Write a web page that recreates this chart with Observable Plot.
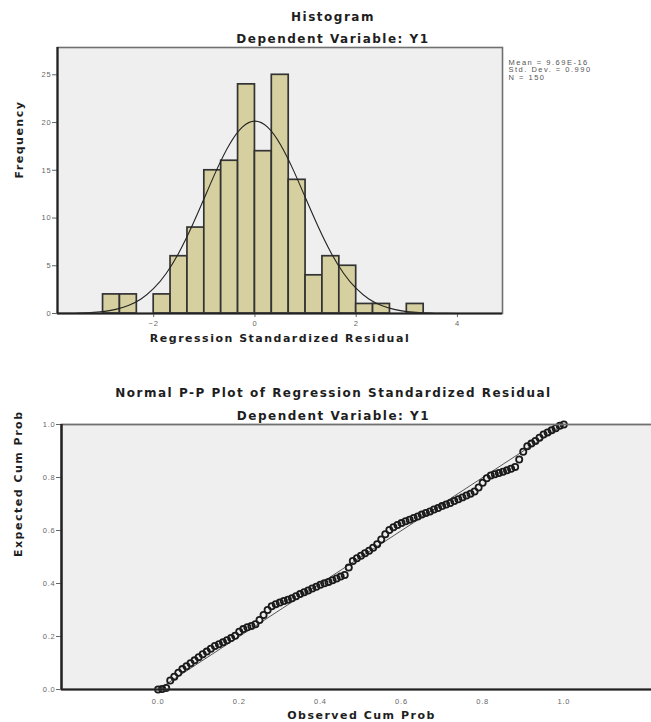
<!DOCTYPE html>
<html><head><meta charset="utf-8">
<script src="https://cdn.jsdelivr.net/npm/d3@7"></script>
<script src="https://cdn.jsdelivr.net/npm/@observablehq/plot@0.6"></script>
<style>
body{margin:0;background:#fff;}
#chart{width:651px;height:722px;overflow:hidden;}
#chart svg{display:block;overflow:visible;}
#chart g[aria-label="text"] text{letter-spacing:1.5px;}
#chart g[aria-label^="x-axis"] text,#chart g[aria-label^="y-axis"] text{letter-spacing:0.8px;}
</style></head><body><div id="chart"></div>
<script>
// ---------- Histogram data ----------
const histTitle = "Histogram";
const depVar = "Dependent Variable: Y1";
const histXLabel = "Regression Standardized Residual";
const histYLabel = "Frequency";
const binLo = [-3.000, -2.667, -2.000, -1.667, -1.333, -1.000, -0.667, -0.333, 0.000, 0.333, 0.667, 1.000, 1.333, 1.667, 2.000, 2.333, 3.000];
const binHi = [-2.667, -2.333, -1.667, -1.333, -1.000, -0.667, -0.333, 0.000, 0.333, 0.667, 1.000, 1.333, 1.667, 2.000, 2.333, 2.667, 3.333];
const freq  = [2, 2, 2, 6, 9, 15, 16, 24, 17, 25, 14, 4, 6, 5, 1, 1, 1];
const histXTicks = [-2, 0, 2, 4];
const histYTicks = [0, 5, 10, 15, 20, 25];
const legendLines = ["Mean = 9.69E-16", "Std. Dev. = 0.990", "N = 150"];
// normal curve
const curveX = [-3.9, -3.75, -3.5, -3.25, -3, -2.75, -2.5, -2.25, -2, -1.75, -1.5, -1.25, -1, -0.75, -0.5, -0.25, 0, 0.25, 0.5, 0.75, 1, 1.25, 1.5, 1.75, 2, 2.25, 2.5, 2.75, 3, 3.25, 3.5, 3.75, 4, 4.5, 4.89];
const curveY = [0.01, 0.015, 0.04, 0.09, 0.2, 0.43, 0.83, 1.52, 2.62, 4.22, 6.39, 9.08, 12.09, 15.12, 17.73, 19.52, 20.15, 19.52, 17.73, 15.12, 12.09, 9.08, 6.39, 4.22, 2.62, 1.52, 0.83, 0.43, 0.2, 0.09, 0.04, 0.015, 0.005, 0.001, 0];

// ---------- P-P plot data ----------
const ppTitle = "Normal P-P Plot of Regression Standardized Residual";
const ppXLabel = "Observed Cum Prob";
const ppYLabel = "Expected Cum Prob";
const ppTicks = [0, 0.2, 0.4, 0.6, 0.8, 1.0];
const ppObserved = [0.00,0.01,0.02,0.03,0.04,0.05,0.06,0.07,0.08,0.09,0.10,0.11,0.12,0.13,0.14,0.15,0.16,0.17,0.18,0.19,0.20,0.21,0.22,0.23,0.24,0.25,0.26,0.27,0.28,0.29,0.30,0.31,0.32,0.33,0.34,0.35,0.36,0.37,0.38,0.39,0.40,0.41,0.42,0.43,0.44,0.45,0.46,0.47,0.48,0.49,0.50,0.51,0.52,0.53,0.54,0.55,0.56,0.57,0.58,0.59,0.60,0.61,0.62,0.63,0.64,0.65,0.66,0.67,0.68,0.69,0.70,0.71,0.72,0.73,0.74,0.75,0.76,0.77,0.78,0.79,0.80,0.81,0.82,0.83,0.84,0.85,0.86,0.87,0.88,0.89,0.90,0.91,0.92,0.93,0.94,0.95,0.96,0.97,0.98,0.99,1.00];
const ppExpected = [0.000,0.002,0.006,0.034,0.048,0.063,0.077,0.088,0.099,0.110,0.122,0.133,0.143,0.154,0.164,0.171,0.178,0.186,0.194,0.203,0.218,0.228,0.235,0.240,0.246,0.262,0.281,0.300,0.314,0.322,0.328,0.334,0.339,0.344,0.352,0.360,0.367,0.374,0.381,0.388,0.395,0.401,0.406,0.412,0.419,0.426,0.432,0.460,0.485,0.495,0.505,0.514,0.524,0.535,0.548,0.566,0.586,0.602,0.612,0.621,0.628,0.635,0.641,0.647,0.653,0.660,0.666,0.672,0.679,0.685,0.692,0.698,0.704,0.711,0.718,0.725,0.732,0.739,0.747,0.762,0.780,0.797,0.808,0.812,0.817,0.822,0.827,0.833,0.840,0.868,0.897,0.918,0.928,0.938,0.950,0.962,0.970,0.978,0.986,0.995,1.000];
const diagonal = [0, 1];

// ---------- build ----------
const bins = freq.map((f, i) => ({x1: binLo[i], x2: binHi[i], y: f}));
const curve = curveX.map((x, i) => ({x, y: curveY[i]}));
const pts = ppObserved.map((x, i) => ({x, y: ppExpected[i]}));
const diag = diagonal.map(v => ({x: v, y: v}));

const FONT = "'Liberation Sans', Arial, sans-serif";
const BOLD = "'DejaVu Sans', 'Liberation Sans', sans-serif";
const boldText = (txt, size, o) => Plot.text([txt], {fontWeight: "bold", fontSize: size, fill: "#1e1e1e", fontFamily: BOLD, ...o});

const hist = Plot.plot({
  width: 651, height: 350,
  marginLeft: 57, marginRight: 149, marginTop: 47, marginBottom: 37,
  style: {fontFamily: FONT, fontSize: "7.5px", color: "#666", background: "#fff", overflow: "visible"},
  x: {domain: [-3.9, 4.89], ticks: histXTicks, tickSize: 4, tickPadding: 3, label: null},
  y: {domain: [0, 27.86], ticks: histYTicks, tickSize: 5, tickPadding: 1, label: null},
  marks: [
    Plot.frame({fill: "#efefef"}),
    Plot.rectY(bins, {x1: "x1", x2: "x2", y: "y", fill: "#d6cf9f", stroke: "#333", strokeWidth: 1.7}),
    Plot.line(curve, {x: "x", y: "y", stroke: "#222", strokeWidth: 1.1, curve: "natural"}),
    Plot.frame({stroke: "#707070", strokeWidth: 1.6}),
    Plot.ruleX([-3.9], {stroke: "#222", strokeWidth: 2.2}),
    Plot.ruleY([0], {stroke: "#222", strokeWidth: 2.2}),
    boldText(histTitle, 12, {frameAnchor: "top", dx: 53, dy: -35}),
    boldText(depVar, 12, {frameAnchor: "top", dx: 53, dy: -13}),
    boldText(histXLabel, 11, {frameAnchor: "bottom", dx: 0, dy: 28}),
    boldText(histYLabel, 11, {frameAnchor: "left", dx: -38, dy: -2, rotate: -90}),
    Plot.text([legendLines.join("\n")], {frameAnchor: "top-right", dx: 6, dy: 12, textAnchor: "start", lineAnchor: "top", fontSize: 7.5, lineHeight: 1.0, fill: "#555", fontFamily: FONT})
  ]
});

const pp = Plot.plot({
  width: 651, height: 372,
  marginLeft: 61, marginRight: -2, marginTop: 74, marginBottom: 33,
  style: {fontFamily: FONT, fontSize: "7.5px", color: "#666", background: "#fff", overflow: "visible"},
  x: {domain: [-0.238, 1.221], ticks: ppTicks, tickFormat: d3.format(".1f"), tickSize: 0, tickPadding: 9, label: null},
  y: {domain: [0, 1], ticks: ppTicks, tickFormat: d3.format(".1f"), tickSize: 5, tickPadding: 1, label: null},
  marks: [
    Plot.frame({fill: "#efefef"}),
    Plot.line(diag, {x: "x", y: "y", stroke: "#444", strokeWidth: 0.9}),
    Plot.dot(pts, {x: "x", y: "y", r: 3.1, stroke: "#1a1a1a", strokeWidth: 1.8, fill: "none"}),
    Plot.frame({stroke: "#707070", strokeWidth: 1.8}),
    Plot.ruleX([-0.238], {stroke: "#222", strokeWidth: 2.4}),
    Plot.ruleY([0], {stroke: "#222", strokeWidth: 2.2}),
    boldText(ppTitle, 12, {frameAnchor: "top", dx: -24, dy: -36}),
    boldText(depVar, 12, {frameAnchor: "top", dx: -24, dy: -13}),
    boldText(ppXLabel, 11, {frameAnchor: "bottom", dx: 4, dy: 29}),
    boldText(ppYLabel, 11, {frameAnchor: "left", dx: -43, dy: 0, rotate: -90})
  ]
});

document.getElementById("chart").append(hist, pp);
</script>
</body></html>
